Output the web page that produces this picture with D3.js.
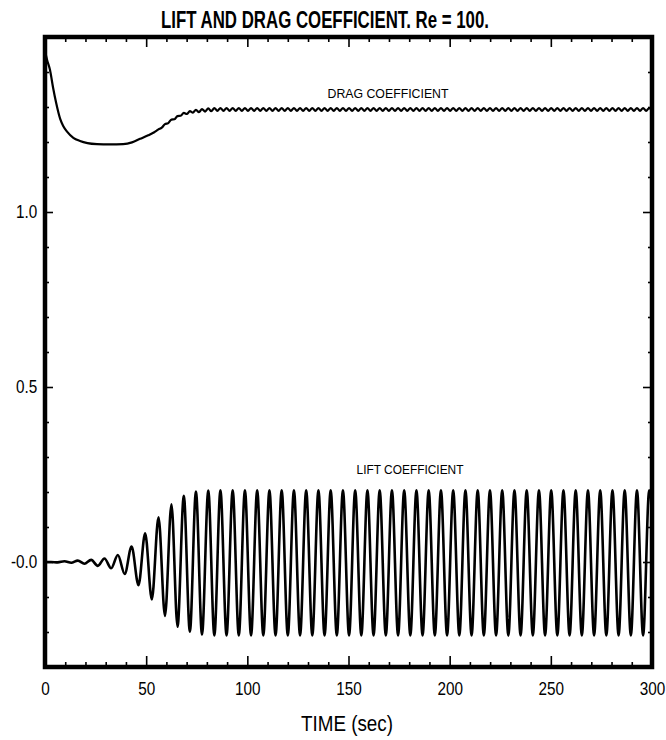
<!DOCTYPE html>
<html>
<head>
<meta charset="utf-8">
<script src="https://cdn.jsdelivr.net/npm/d3@7"></script>
<style>
  body { margin: 0; background: #fff; }
  text { font-family: "Liberation Sans", Arial, Helvetica, sans-serif; fill: #000; }
</style>
</head>
<body>
<svg id="chart" width="666" height="740"></svg>
<script>
// ---- Axis ticks and labels ----
const xMajorTicks = [0, 50, 100, 150, 200, 250, 300];
const xTickLabels = ["0", "50", "100", "150", "200", "250", "300"];
const xMinorTicks = [10, 20, 30, 40, 60, 70, 80, 90, 110, 120, 130, 140, 160, 170, 180, 190,
                     210, 220, 230, 240, 260, 270, 280, 290];
const yMajorTicks = [0, 0.5, 1.0];
const yTickLabels = ["-0.0", "0.5", "1.0"];
const yMinorTicks = [-0.2, -0.1, 0.1, 0.2, 0.3, 0.4, 0.6, 0.7, 0.8, 0.9, 1.1, 1.2, 1.3, 1.4];

// ---- Lift coefficient: turning points during the start-up of vortex shedding ----
const liftEarlyTime = [0, 3.0, 6.3, 9.6, 13.0, 16.2, 19.5, 22.8, 26.1, 29.4, 32.7, 36.0, 39.4,
                       42.8, 46.2, 49.5, 52.8, 56.1, 59.3, 62.5, 65.5, 68.6, 71.6, 74.6, 77.6,
                       80.7, 83.7];
const liftEarlyValue = [0, 0.000, -0.001, 0.002, -0.002, 0.004, -0.005, 0.006, -0.011, 0.010,
                        -0.018, 0.020, -0.034, 0.044, -0.066, 0.082, -0.107, 0.128, -0.154,
                        0.165, -0.185, 0.189, -0.199, 0.201, -0.207, 0.204, -0.210];

// Periodic shedding: turning points recorded every half shedding period
const liftPeriodicStart = 86.7;
const liftPeriodicStep = 3.0275;
const liftPeriodic = [
  0.205, -0.210, 0.205, -0.210, 0.205, -0.210, 0.205, -0.210, 0.205, -0.210, 0.205, -0.210,
  0.205, -0.210, 0.205, -0.210, 0.205, -0.210, 0.205, -0.210, 0.205, -0.210, 0.205, -0.210,
  0.205, -0.210, 0.205, -0.210, 0.205, -0.210, 0.205, -0.210, 0.205, -0.210, 0.205, -0.210,
  0.205, -0.210, 0.205, -0.210, 0.205, -0.210, 0.205, -0.210, 0.205, -0.210, 0.205, -0.210,
  0.205, -0.210, 0.205, -0.210, 0.205, -0.210, 0.205, -0.210, 0.205, -0.210, 0.205, -0.210,
  0.205, -0.210, 0.205, -0.210, 0.205, -0.210, 0.205, -0.210, 0.205, -0.210, 0.205, -0.210
];

// ---- Drag coefficient: impulsive start, dip, then rise to the periodic state ----
const dragEarlyTime = [0, 1.0, 2.5, 4.0, 5.5, 7.5, 9.0, 11.0, 14.0, 17.3, 21.0, 25.7, 32.0, 38.6,
                       43.0, 47.0, 51.0, 54.0, 56.1, 57.7, 59.3, 60.9, 62.5, 64.0, 65.5, 67.05,
                       68.6, 70.1, 71.6, 73.1, 74.6, 76.1, 77.6, 79.15, 80.7, 82.2, 83.7, 85.2];
const dragEarlyValue = [1.460, 1.435, 1.405, 1.355, 1.312, 1.266, 1.246, 1.229, 1.212, 1.203,
                        1.197, 1.194, 1.193, 1.194, 1.199, 1.209, 1.219, 1.228, 1.236, 1.241,
                        1.251, 1.254, 1.264, 1.265, 1.274, 1.275, 1.283, 1.280, 1.288, 1.284,
                        1.292, 1.285, 1.294, 1.287, 1.296, 1.288, 1.297, 1.289];

// Periodic state: drag oscillates at twice the shedding frequency
const dragPeriodicStart = 86.7;
const dragPeriodicStep = 1.51375;
const dragPeriodic = [
  1.297, 1.289, 1.297, 1.289, 1.297, 1.289, 1.297, 1.289, 1.297, 1.289, 1.297, 1.289,
  1.297, 1.289, 1.297, 1.289, 1.297, 1.289, 1.297, 1.289, 1.297, 1.289, 1.297, 1.289,
  1.297, 1.289, 1.297, 1.289, 1.297, 1.289, 1.297, 1.289, 1.297, 1.289, 1.297, 1.289,
  1.297, 1.289, 1.297, 1.289, 1.297, 1.289, 1.297, 1.289, 1.297, 1.289, 1.297, 1.289,
  1.297, 1.289, 1.297, 1.289, 1.297, 1.289, 1.297, 1.289, 1.297, 1.289, 1.297, 1.289,
  1.297, 1.289, 1.297, 1.289, 1.297, 1.289, 1.297, 1.289, 1.297, 1.289, 1.297, 1.289,
  1.297, 1.289, 1.297, 1.289, 1.297, 1.289, 1.297, 1.289, 1.297, 1.289, 1.297, 1.289,
  1.297, 1.289, 1.297, 1.289, 1.297, 1.289, 1.297, 1.289, 1.297, 1.289, 1.297, 1.289,
  1.297, 1.289, 1.297, 1.289, 1.297, 1.289, 1.297, 1.289, 1.297, 1.289, 1.297, 1.289,
  1.297, 1.289, 1.297, 1.289, 1.297, 1.289, 1.297, 1.289, 1.297, 1.289, 1.297, 1.289,
  1.297, 1.289, 1.297, 1.289, 1.297, 1.289, 1.297, 1.289, 1.297, 1.289, 1.297, 1.289,
  1.297, 1.289, 1.297, 1.289, 1.297, 1.289, 1.297, 1.289, 1.297, 1.289
];

// ---- Drawing ----
const svg = d3.select("#chart");
const x = d3.scaleLinear().domain([0, 300]).range([45, 652]);
const y = d3.scaleLinear().domain([-0.3, 1.5]).range([667, 37]);

svg.append("defs").append("clipPath").attr("id", "plot-area")
  .append("rect")
  .attr("x", x(0)).attr("y", y(1.5))
  .attr("width", x(300) - x(0)).attr("height", y(-0.3) - y(1.5));

const liftPoints = liftEarlyTime.map((t, i) => [t, liftEarlyValue[i]])
  .concat(liftPeriodic.map((v, i) => [liftPeriodicStart + i * liftPeriodicStep, v]));
const dragPoints = dragEarlyTime.map((t, i) => [t, dragEarlyValue[i]])
  .concat(dragPeriodic.map((v, i) => [dragPeriodicStart + i * dragPeriodicStep, v]));

const line = d3.line()
  .x(d => x(d[0]))
  .y(d => y(d[1]))
  .curve(d3.curveMonotoneX);

const curves = svg.append("g").attr("clip-path", "url(#plot-area)");
curves.append("path").datum(dragPoints)
  .attr("d", line).attr("fill", "none").attr("stroke", "#000")
  .attr("stroke-width", 2.2).attr("stroke-linejoin", "round");
curves.append("path").datum(liftPoints)
  .attr("d", line).attr("fill", "none").attr("stroke", "#000")
  .attr("stroke-width", 2.6).attr("stroke-linejoin", "round");

// Inward-pointing ticks on all four sides
function drawAxis(axis, tx, ty, labelled) {
  const g = svg.append("g").attr("transform", `translate(${tx},${ty})`).call(axis);
  g.select(".domain").remove();
  g.selectAll(".tick line").attr("stroke", "#000").attr("stroke-width", 1.6);
  if (labelled) {
    g.attr("font-family", null).attr("font-size", null);
    g.selectAll(".tick text").attr("fill", "#000")
      .style("font-size", "18px")
      .attr("transform", "scale(0.85,1)");
  }
  return g;
}

const xFmt = d => xTickLabels[xMajorTicks.indexOf(d)];
const yFmt = d => yTickLabels[yMajorTicks.indexOf(d)];

drawAxis(d3.axisBottom(x).tickValues(xMinorTicks).tickSizeInner(-5).tickSizeOuter(0).tickFormat(""), 0, y(-0.3), false);
drawAxis(d3.axisBottom(x).tickValues(xMajorTicks).tickSizeInner(-11).tickSizeOuter(0).tickPadding(15).tickFormat(xFmt), 0, y(-0.3), true);
drawAxis(d3.axisTop(x).tickValues(xMinorTicks).tickSizeInner(-5).tickSizeOuter(0).tickFormat(""), 0, y(1.5), false);
drawAxis(d3.axisTop(x).tickValues(xMajorTicks).tickSizeInner(-10).tickSizeOuter(0).tickFormat(""), 0, y(1.5), false);

drawAxis(d3.axisLeft(y).tickValues(yMinorTicks).tickSizeInner(-4).tickSizeOuter(0).tickFormat(""), x(0), 0, false);
drawAxis(d3.axisLeft(y).tickValues(yMajorTicks).tickSizeInner(-8).tickSizeOuter(0).tickPadding(9).tickFormat(yFmt), x(0), 0, true);
drawAxis(d3.axisRight(y).tickValues(yMinorTicks).tickSizeInner(-4).tickSizeOuter(0).tickFormat(""), x(300), 0, false);
drawAxis(d3.axisRight(y).tickValues(yMajorTicks).tickSizeInner(-9).tickSizeOuter(0).tickFormat(""), x(300), 0, false);

// Heavy plot frame
svg.append("rect")
  .attr("x", x(0)).attr("y", y(1.5))
  .attr("width", x(300) - x(0)).attr("height", y(-0.3) - y(1.5))
  .attr("fill", "none").attr("stroke", "#000").attr("stroke-width", 4.5);

// Curve labels
svg.append("text").attr("x", 388).attr("y", 98).attr("text-anchor", "middle")
  .style("font-size", "13px").attr("textLength", 121).attr("lengthAdjust", "spacingAndGlyphs")
  .text("DRAG COEFFICIENT");
svg.append("text").attr("x", 410).attr("y", 474).attr("text-anchor", "middle")
  .style("font-size", "13px").attr("textLength", 107).attr("lengthAdjust", "spacingAndGlyphs")
  .text("LIFT COEFFICIENT");

// Title and axis title
svg.append("text").attr("x", 325).attr("y", 28).attr("text-anchor", "middle")
  .style("font-size", "24px").style("font-weight", "bold")
  .attr("textLength", 328).attr("lengthAdjust", "spacingAndGlyphs")
  .text("LIFT AND DRAG COEFFICIENT. Re = 100.");
svg.append("text").attr("x", 347).attr("y", 731).attr("text-anchor", "middle")
  .style("font-size", "22px").attr("textLength", 92).attr("lengthAdjust", "spacingAndGlyphs")
  .text("TIME (sec)");
</script>
</body>
</html>
